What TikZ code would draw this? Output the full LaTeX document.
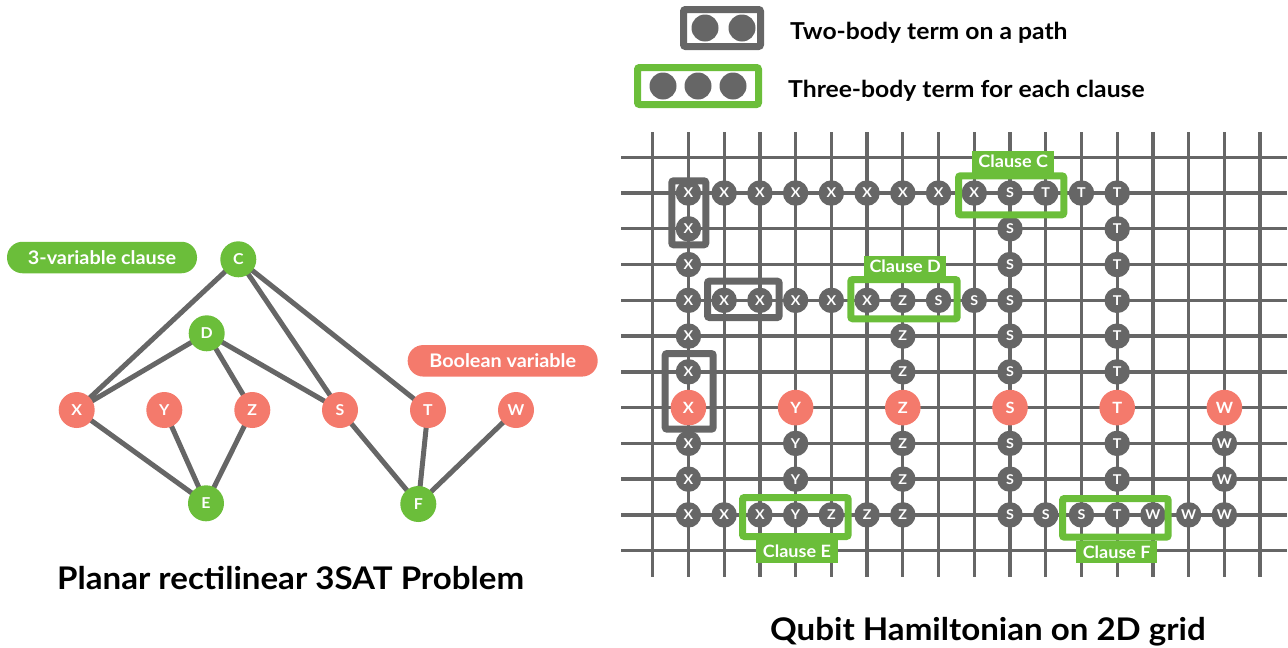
\documentclass[tikz,border=0pt]{standalone}
\usepackage{fontspec}
\setmainfont{Lato}[FakeStretch=1.06]
\definecolor{gr}{HTML}{666666}
\definecolor{grn}{HTML}{6BBE3A}
\definecolor{rd}{HTML}{F47A6C}
\begin{document}
\begin{tikzpicture}[x=1pt,y=-1pt,
  edge/.style={draw=gr, line width=5pt},
  gnode/.style={circle, fill=#1, minimum size=36pt, inner sep=0pt, text=white, font=\bfseries\fontsize{15}{15}\selectfont},
  qb/.style={circle, fill=gr, minimum size=25.5pt, inner sep=0pt, text=white, font=\bfseries\fontsize{13.5}{14}\selectfont},
  qr/.style={circle, fill=rd, minimum size=35.6pt, inner sep=0pt, text=white, font=\bfseries\fontsize{15.5}{16}\selectfont},
  dot/.style={circle, fill=gr, minimum size=27pt, inner sep=0pt},
  pathbox/.style={draw=gr, line width=7pt, rounded corners=2pt},
  clausebox/.style={draw=grn, line width=7pt, rounded corners=2pt},
  clabel/.style={fill=grn, text=white, inner sep=0pt, font=\bfseries\fontsize{17}{18}\selectfont},
  pill/.style={fill=#1, text=white, inner sep=0pt, rounded corners=15.5pt, minimum width=190pt, minimum height=31.5pt, font=\bfseries\fontsize{18.7}{19}\selectfont},
  gridline/.style={draw=gr, line width=3.3pt},
  legendtext/.style={anchor=base west, inner sep=0pt, font=\bfseries\fontsize{23.3}{24}\selectfont},
  titletext/.style={anchor=base west, inner sep=0pt, font=\bfseries\fontsize{31.2}{32}\selectfont}]
\useasboundingbox (0,0) rectangle (1288,648);

% ---------------- left graph ----------------
\coordinate (C) at (238.3,259.3);
\coordinate (D) at (206.7,333.3);
\coordinate (X) at (76.7,410);
\coordinate (Y) at (164.3,410);
\coordinate (Z) at (252.3,410);
\coordinate (S) at (340,410);
\coordinate (T) at (428,410);
\coordinate (W) at (516,410);
\coordinate (E) at (206,503.3);
\coordinate (F) at (418.3,504);
\path[edge] (C) -- (X) (C) -- (S) (C) -- (T) (D) -- (X) (D) -- (Z) (D) -- (S)
            (X) -- (E) (Y) -- (E) (Z) -- (E) (S) -- (F) (T) -- (F) (W) -- (F);
\foreach \n/\c in {C/grn,D/grn,E/grn,F/grn,X/rd,Y/rd,Z/rd,S/rd,T/rd,W/rd}
  \node[gnode=\c] (n\n) at (\n) {\n};

\node[pill=grn] (pc) at (102,257.5) {3-variable clause};
\node[pill=rd] (pv) at (502.7,360.8) {Boolean variable};

\node[titletext] (t1) at (57,589) {Planar rectilinear 3SAT Problem};

% ---------------- legend ----------------
\draw[pathbox, fill=white] (683.5,9.5) rectangle (760.5,46.5);
\node[dot] (l1) at (705,28) {};
\node[dot] (l2) at (742,28) {};
\node[legendtext] (lt1) at (790,39.5) {Two-body term on a path};
\draw[clausebox, fill=white] (637.5,67.5) rectangle (758.5,104.5);
\node[dot] (l3) at (663,86) {};
\node[dot] (l4) at (698,86) {};
\node[dot] (l5) at (733,86) {};
\node[legendtext] (lt2) at (788,97.5) {Three-body term for each clause};

% ---------------- grid ----------------
\begin{scope}[shift={(652.7pt,-157.3pt)}, x=35.73pt, y=-35.76pt]
  \foreach \j in {0,...,11}
    \draw[gridline] (-0.885,\j) -- (17.75,\j);
  \foreach \i in {0,...,17}
    \draw[gridline] (\i,-0.7) -- (\i,11.75);
  % gray qubits
  \foreach \i/\j/\l in {1/1/X,2/1/X,3/1/X,4/1/X,5/1/X,6/1/X,7/1/X,8/1/X,9/1/X,10/1/S,11/1/T,12/1/T,13/1/T,
     1/2/X,1/3/X,1/4/X,1/5/X,1/6/X,1/8/X,1/9/X,1/10/X,
     2/4/X,3/4/X,4/4/X,5/4/X,6/4/X,7/4/Z,8/4/S,9/4/S,10/4/S,
     10/2/S,10/3/S,10/5/S,10/6/S,10/8/S,10/9/S,10/10/S,
     13/2/T,13/3/T,13/4/T,13/5/T,13/6/T,13/8/T,13/9/T,13/10/T,
     7/5/Z,7/6/Z,7/8/Z,7/9/Z,7/10/Z,
     4/8/Y,4/9/Y,4/10/Y,
     2/10/X,3/10/X,5/10/Z,6/10/Z,
     11/10/S,12/10/S,14/10/W,15/10/W,16/10/W,
     16/8/W,16/9/W}
    \node[qb] (q\i-\j) at (\i,\j) {\l};
  % red variable qubits
  \foreach \i/\l in {1/X,4/Y,7/Z,10/S,13/T,16/W}
    \node[qr] (v\l) at (\i,7) {\l};
\end{scope}

% path boxes
\draw[pathbox] (671.8,180.8) rectangle (705.8,244.8);
\draw[pathbox] (707.5,281.2) rectangle (779.2,317.5);
\draw[pathbox] (665.2,353.5) rectangle (713.2,429.2);

% clause boxes
\draw[clausebox] (958.5,175.8) rectangle (1063.8,214.8);
\draw[clausebox] (850.8,279.5) rectangle (957.2,318.8);
\draw[clausebox] (742.5,497.5) rectangle (848.2,536.5);
\draw[clausebox] (1062.5,498.5) rectangle (1168.2,537.2);
\node[clabel, minimum width=81.7pt, minimum height=22pt] (cC) at (1013.2,161.7) {Clause C};
\node[clabel, minimum width=82.5pt, minimum height=21.5pt] (cD) at (905.2,266.3) {Clause D};
\node[clabel, minimum width=81.7pt, minimum height=23pt] (cE) at (796.9,551.7) {Clause E};
\node[clabel, minimum width=81.3pt, minimum height=22.6pt] (cF) at (1116.7,552) {Clause F};

\node[titletext] (t2) at (770,640) {Qubit Hamiltonian on 2D grid};
\end{tikzpicture}
\end{document}
